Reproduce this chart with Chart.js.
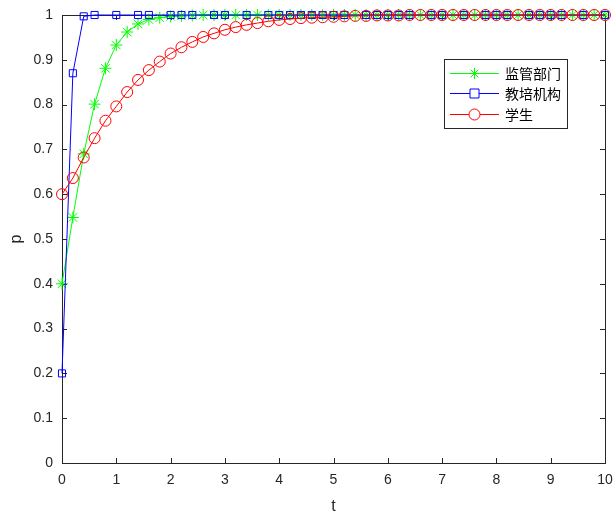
<!DOCTYPE html>
<html>
<head>
<meta charset="utf-8">
<script src="https://cdn.jsdelivr.net/npm/chart.js@4/dist/chart.umd.min.js"></script>
<style>
  html, body { margin: 0; padding: 0; background: #fff; overflow: hidden; }
  canvas { display: block; }
</style>
</head>
<body>
<canvas id="chart" width="613" height="517"></canvas>
<script>
// time grid (t) and the three p(t) curves
const tValues = [0, 0.2, 0.4, 0.6, 0.8, 1, 1.2, 1.4, 1.6, 1.8, 2, 2.2, 2.4, 2.6, 2.8, 3, 3.2, 3.4, 3.6, 3.8,
  4, 4.2, 4.4, 4.6, 4.8, 5, 5.2, 5.4, 5.6, 5.8, 6, 6.2, 6.4, 6.6, 6.8, 7, 7.2, 7.4, 7.6, 7.8,
  8, 8.2, 8.4, 8.6, 8.8, 9, 9.2, 9.4, 9.6, 9.8, 10];

const seriesLabels = ["监管部门", "教培机构", "学生"];

const regulator = [0.400, 0.548, 0.690, 0.801, 0.881, 0.933, 0.962, 0.980, 0.990, 0.994, 0.997, 0.998, 0.999,
  1, 1, 1, 1, 1, 1, 1, 1, 1, 1, 1, 1, 1, 1, 1, 1, 1, 1, 1, 1, 1, 1, 1, 1, 1, 1, 1, 1, 1, 1, 1, 1, 1, 1, 1, 1, 1, 1];

const institution = [0.200, 0.870, 0.997, 1.000,
  1, 1, 1, 1, 1, 1, 1, 1, 1, 1, 1, 1, 1, 1, 1, 1, 1, 1, 1, 1, 1, 1, 1, 1, 1, 1, 1, 1, 1, 1, 1, 1, 1, 1, 1, 1, 1, 1, 1, 1, 1, 1, 1, 1, 1, 1, 1];

const student = [0.600, 0.636, 0.682, 0.725, 0.764, 0.796, 0.828, 0.855, 0.877, 0.896, 0.914, 0.928, 0.940,
  0.951, 0.959, 0.967, 0.973, 0.978, 0.982, 0.986, 0.989, 0.991, 0.993, 0.994, 0.995, 0.996, 0.997, 0.998,
  0.998, 0.999, 0.999, 0.999,
  1, 1, 1, 1, 1, 1, 1, 1, 1, 1, 1, 1, 1, 1, 1, 1, 1, 1, 1];

// t values where the institution curve shows no square marker
const institutionNoMarker = [0.8, 1.2, 1.8, 2.6, 3.2, 3.6, 5.4, 6.6, 7.2, 7.6, 8.4, 9.4, 9.8];

const xTicks = [0, 1, 2, 3, 4, 5, 6, 7, 8, 9, 10];
const yTicks = [0, 0.1, 0.2, 0.3, 0.4, 0.5, 0.6, 0.7, 0.8, 0.9, 1];

const AXIS = "#262626";
const FONT = "'Liberation Sans', Arial, sans-serif";

function toPoints(vals) {
  return tValues.map((t, i) => ({ x: t, y: vals[i] }));
}

// inward ticks on all four sides + the box (MATLAB style)
const boxTicks = {
  id: "boxTicks",
  beforeDatasetsDraw(chart) {
    const { ctx, chartArea: a, scales } = chart;
    const len = 5;
    ctx.save();
    ctx.strokeStyle = AXIS;
    ctx.lineWidth = 1;
    ctx.beginPath();
    ctx.moveTo(a.left, a.top + 0.5);
    ctx.lineTo(a.right + 0.5, a.top + 0.5);
    ctx.lineTo(a.right + 0.5, a.bottom);
    for (const v of xTicks) {
      const x = Math.round(scales.x.getPixelForValue(v)) + 0.5;
      ctx.moveTo(x, a.bottom); ctx.lineTo(x, a.bottom - len);
      ctx.moveTo(x, a.top); ctx.lineTo(x, a.top + len);
    }
    for (const v of yTicks) {
      const y = Math.round(scales.y.getPixelForValue(v)) + 0.5;
      ctx.moveTo(a.left, y); ctx.lineTo(a.left + len, y);
      ctx.moveTo(a.right, y); ctx.lineTo(a.right - len, y);
    }
    ctx.stroke();
    ctx.restore();
  }
};

function legendMarker(ctx, style, x, y, color) {
  ctx.strokeStyle = color;
  ctx.lineWidth = 1;
  ctx.beginPath();
  if (style === "rect") {
    ctx.rect(x - 4.5, y - 4.5, 9, 9);
  } else if (style === "circle") {
    ctx.arc(x, y, 5.5, 0, Math.PI * 2);
  } else {
    const r = 5.5, d = r * Math.SQRT1_2;
    ctx.moveTo(x - r, y); ctx.lineTo(x + r, y);
    ctx.moveTo(x, y - r); ctx.lineTo(x, y + r);
    ctx.moveTo(x - d, y - d); ctx.lineTo(x + d, y + d);
    ctx.moveTo(x - d, y + d); ctx.lineTo(x + d, y - d);
  }
  if (style !== "star") { ctx.fillStyle = "#fff"; ctx.fill(); }
  ctx.stroke();
}

// legend box inside the plot, upper right
const boxLegend = {
  id: "boxLegend",
  afterDraw(chart) {
    const { ctx, chartArea: a } = chart;
    const w = 123, h = 69;
    const left = Math.round(a.right - 38 - w), top = Math.round(a.top + 44);
    ctx.save();
    ctx.fillStyle = "#fff";
    ctx.fillRect(left, top, w, h);
    ctx.strokeStyle = AXIS;
    ctx.lineWidth = 1;
    ctx.strokeRect(left + 0.5, top + 0.5, w, h);
    chart.data.datasets.forEach((ds, i) => {
      const y = Math.round(top + 13.5 + i * 20.7) + 0.5;
      ctx.save();
      ctx.strokeStyle = ds.borderColor;
      ctx.lineWidth = 1;
      ctx.beginPath();
      ctx.moveTo(left + 6, y);
      ctx.lineTo(left + 55, y);
      ctx.stroke();
      legendMarker(ctx, ds.pointStyle, left + 30.5, y, ds.borderColor);
      ctx.fillStyle = "#000";
      ctx.font = "14px 'Noto Sans CJK SC', sans-serif";
      ctx.textBaseline = "middle";
      ctx.fillText(ds.label, left + 61, y);
      ctx.restore();
    });
    ctx.restore();
  }
};

const ctx = document.getElementById("chart").getContext("2d");

new Chart(ctx, {
  type: "line",
  data: {
    datasets: [
      {
        label: seriesLabels[0],
        data: toPoints(regulator),
        borderColor: "#00ff00",
        backgroundColor: "#00ff00",
        pointStyle: "star",
        pointRadius: 6,
        pointBorderWidth: 1,
        borderWidth: 1,
        order: 2
      },
      {
        label: seriesLabels[1],
        data: toPoints(institution),
        borderColor: "#0000ff",
        backgroundColor: "transparent",
        pointStyle: "rect",
        pointRadius: (c) => {
          const p = c.raw;
          return p && institutionNoMarker.includes(p.x) ? 0 : 5;
        },
        pointBorderWidth: 1,
        borderWidth: 1,
        order: 1
      },
      {
        label: seriesLabels[2],
        data: toPoints(student),
        borderColor: "#ff0000",
        backgroundColor: "transparent",
        pointStyle: "circle",
        pointRadius: 5.5,
        pointBorderWidth: 1,
        borderWidth: 1,
        order: 0
      }
    ]
  },
  options: {
    responsive: false,
    animation: false,
    clip: false,
    layout: { padding: { top: 15, right: 0, left: 0, bottom: 0 } },
    elements: { line: { tension: 0 }, point: { hoverRadius: 6 } },
    plugins: {
      legend: { display: false },
      tooltip: { enabled: false }
    },
    scales: {
      x: {
        type: "linear",
        min: 0,
        max: 10,
        grid: { display: false },
        border: { display: true, color: AXIS, width: 1 },
        afterBuildTicks: (s) => { s.ticks = xTicks.map(v => ({ value: v })); },
        afterFit: (s) => { s.height = 54; s.paddingLeft = 0; s.paddingRight = 8; },
        ticks: { color: AXIS, font: { size: 14, family: FONT }, padding: 1, maxRotation: 0 },
        title: { display: true, text: "t", color: AXIS, font: { size: 16, family: FONT }, padding: { top: 2, bottom: 1 } }
      },
      y: {
        type: "linear",
        min: 0,
        max: 1,
        grid: { display: false },
        border: { display: true, color: AXIS, width: 1 },
        afterBuildTicks: (s) => { s.ticks = yTicks.map(v => ({ value: v })); },
        afterFit: (s) => { s.width = 62; s.paddingTop = 0; s.paddingBottom = 0; },
        ticks: {
          color: AXIS,
          font: { size: 14, family: FONT },
          padding: 1,
          callback: (v) => String(+v.toFixed(1))
        },
        title: { display: true, text: "p", color: AXIS, font: { size: 16, family: FONT }, padding: { top: 7, bottom: 0 } }
      }
    }
  },
  plugins: [boxTicks, boxLegend]
});
</script>
</body>
</html>
